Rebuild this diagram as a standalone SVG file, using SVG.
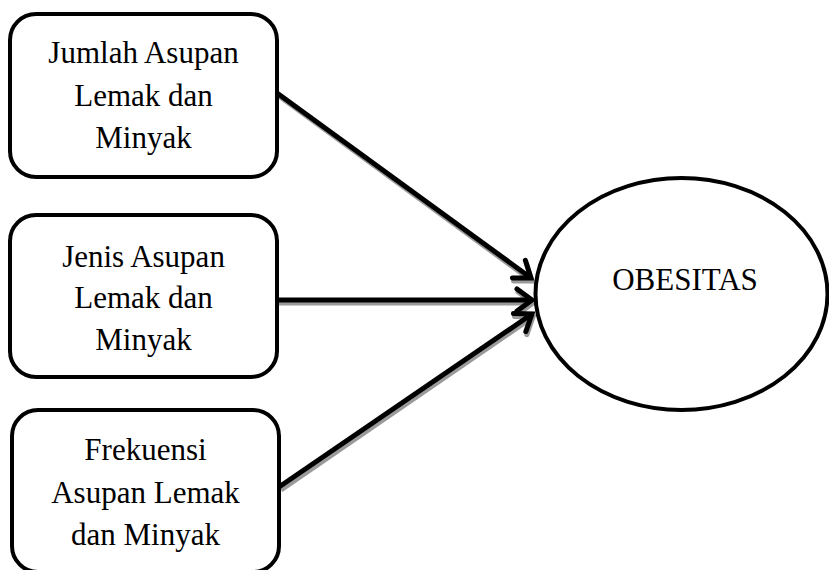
<svg xmlns="http://www.w3.org/2000/svg" width="829" height="570" viewBox="0 0 829 570">
<style>
.box{fill:#fff;stroke:#000;stroke-width:4}
.t{font-family:"Liberation Serif","Times New Roman",serif;font-size:31px;fill:#000;text-anchor:middle}
.ln{stroke:#000;stroke-width:5;fill:none}
.sh{stroke:#9a9a9a;stroke-width:5;fill:none}
</style>
<defs>
<marker id="ah" markerUnits="userSpaceOnUse" markerWidth="30" markerHeight="30" refX="20" refY="15" orient="auto" viewBox="0 0 30 30">
<path d="M5,4 L20,15 L5,26" fill="none" stroke="#000" stroke-width="5" stroke-linecap="round" stroke-linejoin="miter"/>
</marker>
<marker id="ahs" markerUnits="userSpaceOnUse" markerWidth="30" markerHeight="30" refX="20" refY="15" orient="auto" viewBox="0 0 30 30">
<path d="M5,4 L20,15 L5,26" fill="none" stroke="#9a9a9a" stroke-width="5" stroke-linecap="round"/>
</marker>
</defs>
<g id="connectors">
<line class="sh" x1="279" y1="96" x2="532" y2="281" marker-end="url(#ahs)"/>
<line class="sh" x1="279" y1="303" x2="533" y2="303" marker-end="url(#ahs)"/>
<line class="sh" x1="281" y1="490" x2="533" y2="317" marker-end="url(#ahs)"/>
<line class="ln" x1="277" y1="93" x2="531" y2="278" marker-end="url(#ah)"/>
<line class="ln" x1="277" y1="300" x2="532" y2="300" marker-end="url(#ah)"/>
<line class="ln" x1="279" y1="487" x2="532" y2="314" marker-end="url(#ah)"/>
</g>
<g id="node1">
<rect class="box" x="10" y="14" width="267" height="163" rx="26"/>
<text class="t" x="143.5" y="63">Jumlah Asupan</text>
<text class="t" x="143.5" y="106">Lemak dan</text>
<text class="t" x="143.5" y="148">Minyak</text>
</g>
<g id="node2">
<rect class="box" x="10" y="215" width="267" height="162" rx="26"/>
<text class="t" x="143.5" y="267">Jenis Asupan</text>
<text class="t" x="143.5" y="308">Lemak dan</text>
<text class="t" x="143.5" y="350">Minyak</text>
</g>
<g id="node3">
<rect class="box" x="12" y="410" width="267" height="162" rx="26"/>
<text class="t" x="145.5" y="460">Frekuensi</text>
<text class="t" x="145.5" y="503">Asupan Lemak</text>
<text class="t" x="145.5" y="545">dan Minyak</text>
</g>
<g id="node4">
<ellipse class="box" cx="681.5" cy="294" rx="146" ry="116"/>
<text class="t" x="685" y="290">OBESITAS</text>
</g>
</svg>
